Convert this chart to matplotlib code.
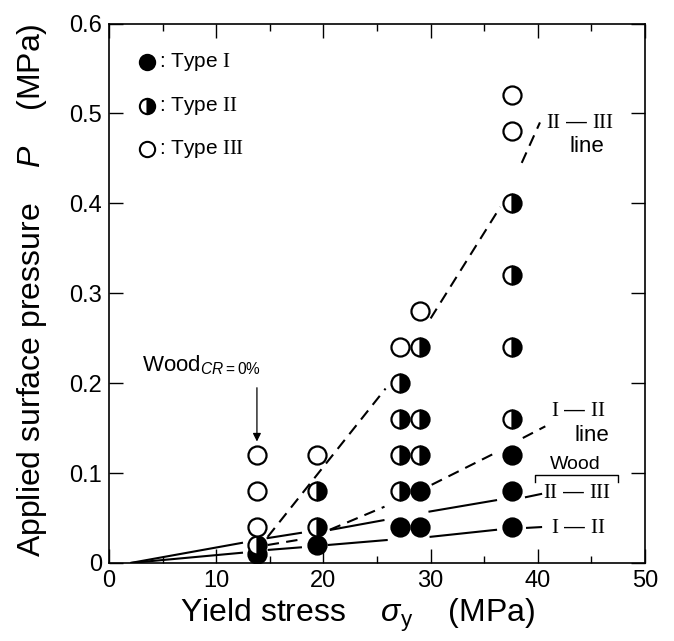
import numpy as np
import matplotlib.pyplot as plt

plt.rcParams['font.family'] = ['Liberation Sans', 'DejaVu Sans']
plt.rcParams['mathtext.fontset'] = 'custom'
plt.rcParams['mathtext.it'] = 'Liberation Sans:italic'
plt.rcParams['mathtext.rm'] = 'Liberation Serif'
plt.rcParams['mathtext.sf'] = 'Liberation Sans'

# ---- data ----------------------------------------------------------
# Type I (filled)
type1_x = [13.8, 19.4, 27.1, 29.0, 29.0, 37.6, 37.6, 37.6]
type1_y = [0.01, 0.02, 0.04, 0.04, 0.08, 0.04, 0.08, 0.12]
# Type II (half filled)
type2_x = [13.8, 19.4, 19.4, 27.1, 27.1, 27.1, 27.1, 29.0, 29.0, 29.0, 37.6, 37.6, 37.6, 37.6]
type2_y = [0.02, 0.04, 0.08, 0.08, 0.12, 0.16, 0.20, 0.12, 0.16, 0.24, 0.16, 0.24, 0.32, 0.40]
# Type III (open)
type3_x = [13.8, 13.8, 13.8, 19.4, 27.1, 29.0, 37.6, 37.6]
type3_y = [0.04, 0.08, 0.12, 0.12, 0.24, 0.28, 0.48, 0.52]

# boundary lines, as visible pieces (x0, x1), (y0, y1)
wood_12 = [((2.0, 12.5), (0.0, 0.0115)),
           ((14.8, 18.0), (0.0145, 0.0175)),
           ((20.4, 26.0), (0.020, 0.0256)),
           ((29.9, 36.2), (0.029, 0.037)),
           ((38.9, 40.4), (0.039, 0.040))]
wood_23 = [((2.0, 12.5), (0.0, 0.0226)),
           ((14.7, 18.0), (0.0275, 0.0337)),
           ((20.6, 25.7), (0.0367, 0.0478)),
           ((29.8, 36.2), (0.057, 0.070)),
           ((38.8, 40.4), (0.073, 0.077))]
dash_12 = [((14.8, 18.0), (0.020, 0.0264)),
           ((20.6, 25.7), (0.037, 0.0626)),
           ((30.1, 36.3), (0.087, 0.124)),
           ((38.6, 40.7), (0.139, 0.152))]
dash_23 = [((14.8, 25.8), (0.029, 0.194)),
           ((30.0, 36.5), (0.272, 0.396)),
           ((38.5, 40.2), (0.445, 0.49))]

I, II, III = r'$\mathrm{I}$', r'$\mathrm{II}$', r'$\mathrm{III}$'

fig = plt.figure(figsize=(6.74, 6.41), dpi=100)
ax = fig.add_axes([0.1617, 0.1217, 0.7953, 0.8416])

for xs, ys in wood_12 + wood_23:
    ax.plot(xs, ys, color='black', lw=1.5, solid_capstyle='butt', zorder=2)
for xs, ys in dash_12 + dash_23:
    ax.plot(xs, ys, color='black', lw=1.5, ls=(0, (5.5, 3.5)), zorder=2)

ms = 13
mew = 1.6
ax.plot(type1_x, type1_y, 'o', ms=ms, mfc='black', mec='black', mew=mew, zorder=3)
ax.plot(type2_x, type2_y, 'o', ms=ms, fillstyle='right', mfc='black',
        mfcalt='white', mec='black', mew=mew, zorder=4)
ax.plot(type3_x, type3_y, 'o', ms=ms, mfc='white', mec='black', mew=mew, zorder=5)

# legend drawn by hand
leg_labels = [': Type ' + I, ': Type ' + II, ': Type ' + III]
for k, lab in enumerate(leg_labels):
    yy = 0.929 - k * 0.081
    if k == 0:
        kw = dict(mfc='black')
    elif k == 1:
        kw = dict(fillstyle='right', mfc='black', mfcalt='white')
    else:
        kw = dict(mfc='white')
    ax.plot([0.071], [yy], 'o', ms=11, mec='black', mew=1.5,
            transform=ax.transAxes, clip_on=False, **kw)
    ax.text(0.093, yy, lab, transform=ax.transAxes, fontsize=15,
            va='center', ha='left')

# right side notes
ax.text(43.9, 0.49, II + ' — ' + III, fontsize=15, ha='center', va='center')
ax.text(44.6, 0.463, 'line', fontsize=16, ha='center', va='center')
ax.text(43.8, 0.170, I + ' — ' + II, fontsize=15, ha='center', va='center')
ax.text(45.0, 0.142, 'line', fontsize=16, ha='center', va='center')
ax.text(43.5, 0.110, 'Wood', fontsize=14, ha='center', va='center')
ax.plot([39.7, 39.7, 47.5, 47.5], [0.090, 0.098, 0.098, 0.090],
        color='black', lw=1.0)
ax.text(43.6, 0.078, II + ' — ' + III, fontsize=15, ha='center', va='center')
ax.text(43.8, 0.039, I + ' — ' + II, fontsize=15, ha='center', va='center')

# Wood CR=0% arrow
ax.annotate('', xy=(13.8, 0.132), xytext=(13.8, 0.198),
            arrowprops=dict(arrowstyle='-|>', color='black', lw=0.9,
                            mutation_scale=12))
ax.text(8.6, 0.220, r'Wood$_{\mathit{CR}\mathsf{=0\%}}$', fontsize=16,
        ha='center', va='center')

# axes
ax.set_xlim(0, 50)
ax.set_ylim(0, 0.6)
ax.set_xticks([0, 10, 20, 30, 40, 50])
ax.set_xticks([5, 15, 25, 35, 45], minor=True)
ax.set_yticks([0, 0.1, 0.2, 0.3, 0.4, 0.5, 0.6])
ax.set_yticklabels(['0', '0.1', '0.2', '0.3', '0.4', '0.5', '0.6'])
ax.tick_params(which='both', direction='in', top=True, right=True, width=1.0)
ax.tick_params(which='major', length=10, labelsize=17, pad=5)
ax.tick_params(which='minor', length=5)
for s in ax.spines.values():
    s.set_linewidth(1.2)

ax.set_ylabel(r'Applied surface pressure    $\mathit{P}$    (MPa)', fontsize=23)
ax.yaxis.set_label_coords(-0.112, 0.506)
ax.set_xlabel(r'Yield stress    $\mathit{\sigma}_{\mathsf{y}}$    (MPa)', fontsize=23)
ax.xaxis.set_label_coords(0.463, -0.062)

fig.savefig('out.png', dpi=100)
